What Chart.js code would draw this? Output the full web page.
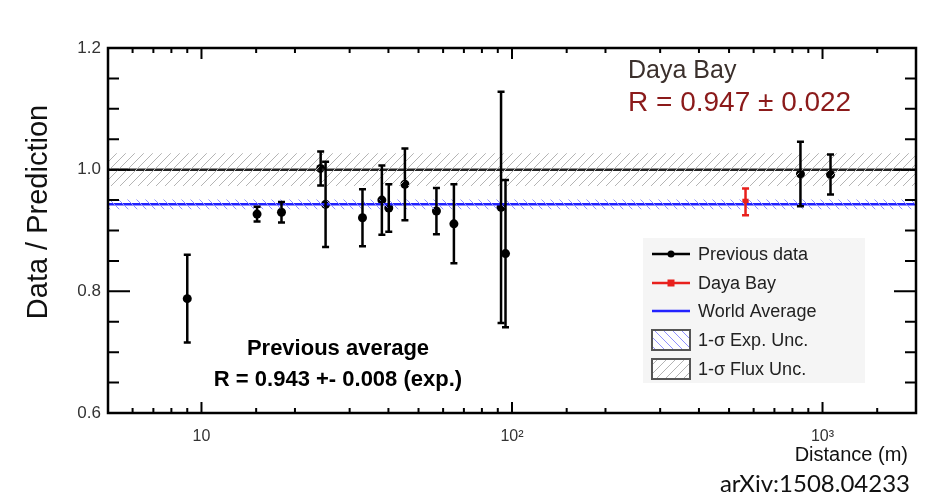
<!DOCTYPE html>
<html>
<head>
<meta charset="utf-8">
<script src="https://cdn.jsdelivr.net/npm/chart.js@4.4.0/dist/chart.umd.min.js"></script>
<style>
  html, body { margin: 0; padding: 0; background: #fff; overflow: hidden; }
  canvas { display: block; }
</style>
</head>
<body>
<canvas id="ratio" width="951" height="501"></canvas>
<script>
// previous reactor experiments (distance in m, data / prediction, error)
const prevDist = [9.0, 15.1, 18.1, 24.2, 25.1, 33.0, 38.1, 40.1, 45.2, 57.1, 65.0, 92.2, 95.3, 849, 1061];
const prevRatio = [0.788, 0.927, 0.930, 1.002, 0.943, 0.921, 0.950, 0.937, 0.976, 0.932, 0.911, 0.938, 0.862, 0.993, 0.992];
const prevErr = [0.072, 0.012, 0.017, 0.028, 0.070, 0.047, 0.057, 0.039, 0.059, 0.038, 0.065, 0.190, 0.121, 0.053, 0.033];

// Daya Bay
const dybDist = [565];
const dybRatio = [0.947];
const dybErr = [0.022];

// averages and bands
const worldAvg = 0.943;
const worldExpUnc = 0.008;
const fluxUnc = 0.027;

const xRange = [5, 2000];
const yRange = [0.6, 1.2];
const xTickVals = [10, 100, 1000];
const xTickLabels = ["10", "10\u00B2", "10\u00B3"];

const FONT = "'Liberation Sans', Arial, Helvetica, sans-serif";

//hatch pattern, dir 1 = "/" and -1 = "\"
function hatch(color, dir) {
  const s = 9;
  const c = document.createElement("canvas");
  c.width = s;
  c.height = s;
  const g = c.getContext("2d");
  g.strokeStyle = color;
  g.lineWidth = 1;
  g.beginPath();
  if (dir > 0) {
    g.moveTo(0, s); g.lineTo(s, 0);
    g.moveTo(-2, 2); g.lineTo(2, -2);
    g.moveTo(s - 2, s + 2); g.lineTo(s + 2, s - 2);
  } else {
    g.moveTo(0, 0); g.lineTo(s, s);
    g.moveTo(-2, s - 2); g.lineTo(2, s + 2);
    g.moveTo(s - 2, -2); g.lineTo(s + 2, 2);
  }
  g.stroke();
  return g.createPattern(c, "repeat");
}

const fluxPattern = hatch("#b4b4b4", 1);
const expPattern = hatch("#9090ff", -1);

const flat = (y) => xRange.map((x) => ({ x: x, y: y }));
const pts = (xs, ys) => xs.map((x, i) => ({ x: x, y: ys[i] }));

// error bars + frame + inner ticks + texts + legend
const decorations = {
  id: "decorations",
  afterDatasetsDraw(chart) {
    const ctx = chart.ctx;
    const xs = chart.scales.x;
    const ys = chart.scales.y;
    const bars = [
      [prevDist, prevRatio, prevErr, "#000"],
      [dybDist, dybRatio, dybErr, "#e8201c"],
    ];
    ctx.save();
    bars.forEach(([d, r, e, col]) => {
      ctx.strokeStyle = col;
      ctx.lineWidth = 2.5;
      d.forEach((dist, i) => {
        const px = xs.getPixelForValue(dist);
        const top = ys.getPixelForValue(r[i] + e[i]);
        const bot = ys.getPixelForValue(r[i] - e[i]);
        ctx.beginPath();
        ctx.moveTo(px, top); ctx.lineTo(px, bot);
        ctx.moveTo(px - 3.5, top); ctx.lineTo(px + 3.5, top);
        ctx.moveTo(px - 3.5, bot); ctx.lineTo(px + 3.5, bot);
        ctx.stroke();
      });
    });
    ctx.restore();
  },
  afterDraw(chart) {
    const ctx = chart.ctx;
    const a = chart.chartArea;
    const xs = chart.scales.x;
    const ys = chart.scales.y;
    ctx.save();

    // inner ticks
    ctx.strokeStyle = "#000";
    ctx.lineWidth = 2;
    ctx.beginPath();
    ys.ticks.forEach((t) => {
      const py = ys.getPixelForValue(t.value);
      if (py <= a.top + 1 || py >= a.bottom - 1) return;
      const len = t.label ? 22 : 11;
      ctx.moveTo(a.left, py); ctx.lineTo(a.left + len, py);
      ctx.moveTo(a.right, py); ctx.lineTo(a.right - len, py);
    });
    xs.ticks.forEach((t) => {
      const px = xs.getPixelForValue(t.value);
      if (px <= a.left + 1 || px >= a.right - 1) return;
      const len = t.label ? 11 : 5;
      ctx.moveTo(px, a.bottom); ctx.lineTo(px, a.bottom - len);
      ctx.moveTo(px, a.top); ctx.lineTo(px, a.top + len);
    });
    ctx.stroke();

    // frame
    ctx.lineWidth = 2.5;
    ctx.strokeRect(a.left, a.top, a.right - a.left, a.bottom - a.top);

    // axis titles
    ctx.fillStyle = "#111";
    ctx.font = "29px " + FONT;
    ctx.textAlign = "center";
    ctx.textBaseline = "middle";
    ctx.save();
    ctx.translate(39, 212);
    ctx.rotate(-Math.PI / 2);
    ctx.fillText("Data / Prediction", 0, 0);
    ctx.restore();

    ctx.font = "20px " + FONT;
    ctx.textAlign = "right";
    ctx.textBaseline = "alphabetic";
    ctx.fillText("Distance (m)", 908, 461);

    // Daya Bay result
    ctx.textAlign = "left";
    ctx.fillStyle = "#3b302c";
    ctx.font = "25px " + FONT;
    ctx.fillText("Daya Bay", 628, 78);
    ctx.fillStyle = "#8b1a1a";
    ctx.font = "28px " + FONT;
    ctx.fillText("R = 0.947 \u00B1 0.022", 628, 111);

    // previous average
    ctx.fillStyle = "#000";
    ctx.textAlign = "center";
    ctx.font = "bold 22px " + FONT;
    ctx.fillText("Previous average", 338, 355);
    ctx.fillText("R = 0.943 +- 0.008 (exp.)", 338, 386);

    // source
    ctx.fillStyle = "#111";
    ctx.textAlign = "right";
    ctx.textBaseline = "alphabetic";
    ctx.font = "24px Lato, 'Open Sans', sans-serif";
    ctx.fillText("arXiv:1508.04233", 910, 492);

    // legend
    ctx.fillStyle = "#f5f5f5";
    ctx.fillRect(643, 238, 222, 145);
    const rows = [254, 283, 311, 340, 369];
    const x0 = 652, x1 = 690;
    ctx.lineWidth = 2.5;
    ctx.strokeStyle = "#000";
    ctx.beginPath(); ctx.moveTo(x0, rows[0]); ctx.lineTo(x1, rows[0]); ctx.stroke();
    ctx.fillStyle = "#000";
    ctx.beginPath(); ctx.arc(671, rows[0], 3.5, 0, Math.PI * 2); ctx.fill();
    ctx.strokeStyle = "#e8201c";
    ctx.beginPath(); ctx.moveTo(x0, rows[1]); ctx.lineTo(x1, rows[1]); ctx.stroke();
    ctx.fillStyle = "#e8201c";
    ctx.fillRect(667.5, rows[1] - 3.5, 7, 7);
    ctx.strokeStyle = "#2222ff";
    ctx.beginPath(); ctx.moveTo(x0, rows[2]); ctx.lineTo(x1, rows[2]); ctx.stroke();
    [[rows[3], expPattern], [rows[4], fluxPattern]].forEach(([ry, pat]) => {
      ctx.fillStyle = "#fff";
      ctx.fillRect(x0, ry - 10, x1 - x0, 20);
      ctx.fillStyle = pat;
      ctx.fillRect(x0, ry - 10, x1 - x0, 20);
      ctx.strokeStyle = "#555";
      ctx.lineWidth = 2;
      ctx.strokeRect(x0, ry - 10, x1 - x0, 20);
    });
    ctx.fillStyle = "#222";
    ctx.textAlign = "left";
    ctx.textBaseline = "middle";
    ctx.font = "18px " + FONT;
    const legendText = ["Previous data", "Daya Bay", "World Average", "1-\u03C3 Exp. Unc.", "1-\u03C3 Flux Unc."];
    legendText.forEach((s, i) => ctx.fillText(s, 698, rows[i] + 1));

    ctx.restore();
  },
};

new Chart(document.getElementById("ratio"), {
  type: "scatter",
  data: {
    datasets: [
      { type: "line", data: flat(1 + fluxUnc), fill: "+1", backgroundColor: fluxPattern, borderWidth: 0, pointRadius: 0 },
      { type: "line", data: flat(1 - fluxUnc), fill: false, borderWidth: 0, pointRadius: 0 },
      { type: "line", data: flat(worldAvg + worldExpUnc), fill: "+1", backgroundColor: expPattern, borderWidth: 0, pointRadius: 0 },
      { type: "line", data: flat(worldAvg - worldExpUnc), fill: false, borderWidth: 0, pointRadius: 0 },
      { type: "line", data: flat(1), borderColor: "#222", borderWidth: 2.5, pointRadius: 0, fill: false },
      { type: "line", data: flat(worldAvg), borderColor: "#2222ff", borderWidth: 2.5, pointRadius: 0, fill: false },
      { label: "Previous data", data: pts(prevDist, prevRatio), backgroundColor: "#000", borderWidth: 0, pointRadius: 4.5 },
      { label: "Daya Bay", data: pts(dybDist, dybRatio), backgroundColor: "#e8201c", borderWidth: 0, pointRadius: 4.5, pointStyle: "rect" },
    ],
  },
  options: {
    responsive: false,
    animation: false,
    layout: { padding: { left: 0, top: 48, right: 35, bottom: 0 } },
    plugins: { legend: { display: false }, tooltip: { enabled: false } },
    scales: {
      x: {
        type: "logarithmic",
        min: xRange[0],
        max: xRange[1],
        grid: { display: false, drawTicks: false },
        border: { display: false },
        afterFit: (s) => { s.height = 88; },
        ticks: {
          autoSkip: false,
          maxRotation: 0,
          padding: 14,
          color: "#333",
          font: { family: FONT, size: 16 },
          callback: (v) => {
            const k = xTickVals.indexOf(v);
            return k >= 0 ? xTickLabels[k] : "";
          },
        },
      },
      y: {
        min: yRange[0],
        max: yRange[1],
        grid: { display: false, drawTicks: false },
        border: { display: false },
        afterFit: (s) => { s.width = 108; },
        ticks: {
          stepSize: 0.05,
          autoSkip: false,
          padding: 7,
          color: "#333",
          font: { family: FONT, size: 17 },
          callback: (v) => (Math.abs(v * 5 - Math.round(v * 5)) < 1e-6 ? v.toFixed(1) : ""),
        },
      },
    },
  },
  plugins: [decorations],
});
</script>
</body>
</html>
